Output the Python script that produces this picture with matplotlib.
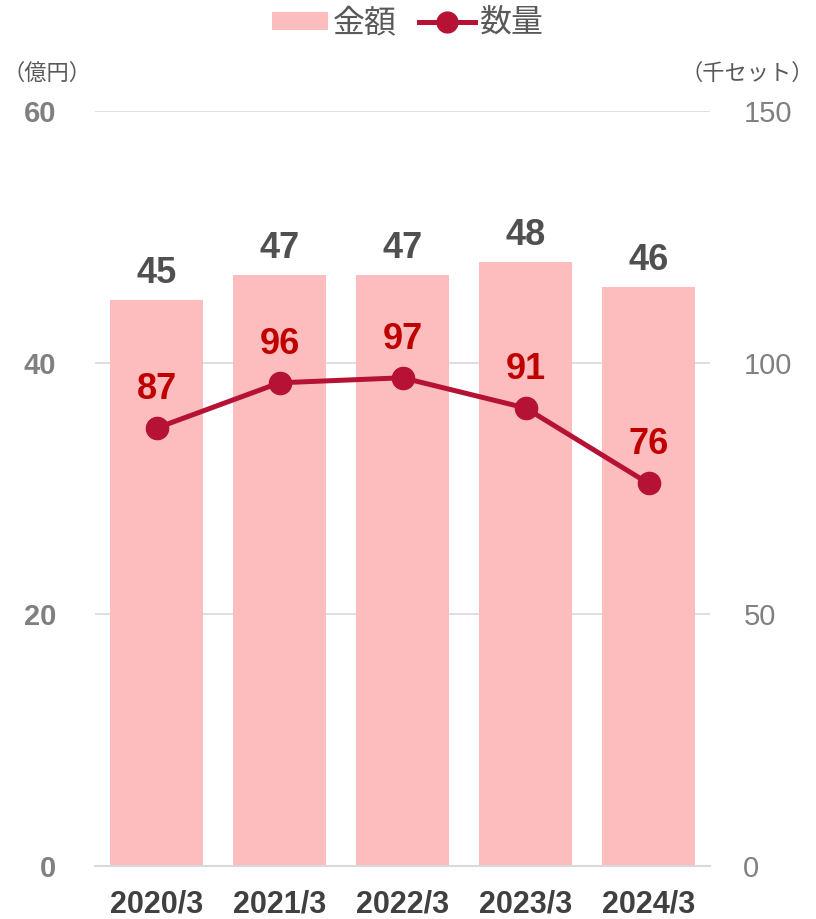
import matplotlib
matplotlib.use("Agg")
import matplotlib.pyplot as plt
from matplotlib.patches import Patch
from matplotlib.lines import Line2D
from matplotlib import font_manager

plt.rcParams['font.family'] = ['Liberation Sans', 'Noto Sans CJK JP', 'DejaVu Sans']

years = ['2020/3', '2021/3', '2022/3', '2023/3', '2024/3']
amount = [45, 47, 47, 48, 46]      # 億円
quantity = [87, 96, 97, 91, 76]    # 千セット

bar_color = '#FDBDBF'
line_color = '#B51236'
grid_color = '#D9D9D9'

# narrow face for the year labels if it is there
names = {f.name for f in font_manager.fontManager.ttflist}
year_font = 'Liberation Sans Narrow' if 'Liberation Sans Narrow' in names else 'Liberation Sans'

fig = plt.figure(figsize=(8.16, 9.19), dpi=100)
ax = fig.add_axes([95/816, 53/919, 615/816, 755/919])
ax2 = ax.twinx()

x = list(range(len(years)))
ax.bar(x, amount, width=0.76, color=bar_color, zorder=2)
ax.set_xlim(-0.5, len(years) - 0.5)
ax.set_ylim(0, 60)
ax.set_yticks([0, 20, 40, 60])
ax.set_axisbelow(True)
ax.grid(axis='y', color=grid_color, linewidth=1.2)
ax2.set_ylim(0, 150)
ax2.set_yticks([0, 50, 100, 150])

ax2.plot(x, quantity, color=line_color, linewidth=3.6, marker='o', markersize=16, zorder=3)

for a in (ax, ax2):
    for s in a.spines.values():
        s.set_visible(False)
ax.spines['bottom'].set_visible(True)
ax.spines['bottom'].set_color(grid_color)
ax.spines['bottom'].set_linewidth(1.5)

ax.set_xticks(x)
ax.set_xticklabels(years, fontsize=22, fontweight='bold', color='#404040', family=year_font)
ax.tick_params(axis='x', length=0, pad=17)
ax.tick_params(axis='y', length=0, pad=28, labelsize=21, labelcolor='#808080')
for t in ax.get_yticklabels():
    t.set_fontweight('bold')
ax2.tick_params(axis='y', length=0, pad=24, labelsize=21, labelcolor='#808080')

for xi, v in zip(x, amount):
    ax.annotate(str(v), (xi, v), xytext=(0, 12), textcoords='offset points',
                ha='center', va='baseline', fontsize=26, fontweight='bold', color='#505050')
for xi, v in zip(x, quantity):
    ax2.annotate(str(v), (xi, v), xytext=(0, 21), textcoords='offset points',
                 ha='center', va='baseline', fontsize=26, fontweight='bold', color='#C00000')

fig.text(3/816, 1 - 73/919, '（億円）', fontsize=16, color='#595959',
         family=['Noto Sans CJK JP'], ha='left', va='center')
fig.text(814/816, 1 - 73/919, '（千セット）', fontsize=16, color='#595959',
         family=['Noto Sans CJK JP'], ha='right', va='center')

handles = [Patch(facecolor=bar_color, edgecolor='none'),
           Line2D([], [], color=line_color, linewidth=3.6, marker='o', markersize=15)]
fig.legend(handles, ['金額', '数量'], loc='center', bbox_to_anchor=(0.5, 1 - 23/919),
           ncol=2, frameon=False, prop={'family': 'Noto Sans CJK JP', 'size': 23},
           labelcolor='#595959', handlelength=1.75, handleheight=0.5,
           handletextpad=0.15, columnspacing=0.7)

fig.savefig('out.png', dpi=100)
